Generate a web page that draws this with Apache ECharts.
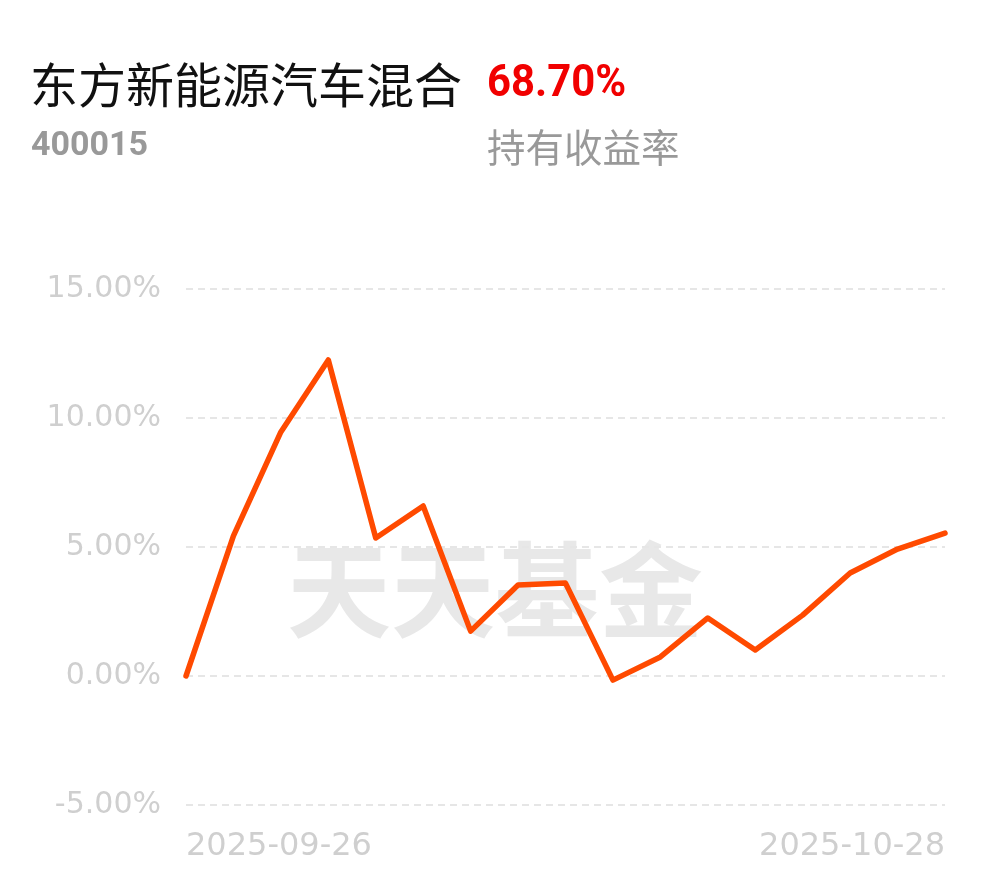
<!DOCTYPE html>
<html>
<head>
<meta charset="utf-8">
<script src="https://cdn.jsdelivr.net/npm/echarts@6/dist/echarts.min.js"></script>
<style>html,body{margin:0;padding:0;background:#fff;}#c{width:990px;height:878px;}</style>
</head>
<body>
<div id="c"></div>
<script>
const fundName = '东方新能源汽车混合';
const fundCode = '400015';
const holdReturn = '68.70%';
const holdLabel = '持有收益率';
const watermark = '天天基金';
const dates = ['2025-09-26','2025-09-29','2025-09-30','2025-10-09','2025-10-10','2025-10-13','2025-10-14','2025-10-15','2025-10-16','2025-10-17','2025-10-20','2025-10-21','2025-10-22','2025-10-23','2025-10-24','2025-10-27','2025-10-28'];
const returns = [0, 5.43, 9.46, 12.25, 5.35, 6.59, 1.74, 3.53, 3.60, -0.16, 0.74, 2.25, 1.01, 2.36, 3.99, 4.92, 5.54];
const yTicks = [-5, 0, 5, 10, 15];

const chart = echarts.init(document.getElementById('c'));
chart.setOption({
  animation: false,
  backgroundColor: '#fff',
  grid: { left: 186, right: 45, top: 289, bottom: 73, containLabel: false },
  graphic: [
    { type: 'text', x: 30, y: 85, z: 10, style: { text: fundName, font: '48px "Noto Sans CJK SC"', fill: '#111', align: 'left', verticalAlign: 'middle' } },
    { type: 'text', x: 487, y: 85, scaleX: 0.93, z: 10, style: { text: holdReturn, font: 'bold 45px Roboto', fill: '#f10000', align: 'left', verticalAlign: 'middle' } },
    { type: 'text', x: 31, y: 146, z: 10, style: { text: fundCode, font: 'bold 34px Roboto', fill: '#999', align: 'left', verticalAlign: 'middle' } },
    { type: 'text', x: 487, y: 147, z: 10, style: { text: holdLabel, font: '38.5px "Noto Sans CJK SC"', fill: '#999', align: 'left', verticalAlign: 'middle' } },
    { type: 'text', x: 495, y: 590, z: -1, style: { text: watermark, font: 'bold 104px "Noto Sans CJK SC"', fill: '#e8e8e8', align: 'center', verticalAlign: 'middle' } }
  ],
  xAxis: {
    type: 'category',
    data: dates,
    boundaryGap: false,
    axisLine: { show: false },
    axisTick: { show: false },
    splitLine: { show: false },
    axisLabel: {
      interval: (i) => i === 0 || i === dates.length - 1,
      alignMinLabel: 'left',
      alignMaxLabel: 'right',
      color: '#cfcfcf',
      fontSize: 32,
      fontFamily: '"DejaVu Sans"',
      margin: 26
    }
  },
  yAxis: {
    type: 'value',
    min: yTicks[0],
    max: yTicks[yTicks.length - 1],
    interval: 5,
    axisLine: { show: false },
    axisTick: { show: false },
    axisLabel: {
      color: '#cfcfcf',
      fontSize: 30,
      fontFamily: '"DejaVu Sans"',
      margin: 25,
      formatter: (v) => v.toFixed(2) + '%'
    },
    splitLine: { lineStyle: { color: '#e6e6e6', width: 2, type: [7, 5] } }
  },
  series: [{
    type: 'line',
    data: returns,
    symbol: 'none',
    lineStyle: { color: '#ff4a00', width: 5.5, join: 'round', cap: 'round' },
    z: 5
  }]
});
</script>
</body>
</html>
